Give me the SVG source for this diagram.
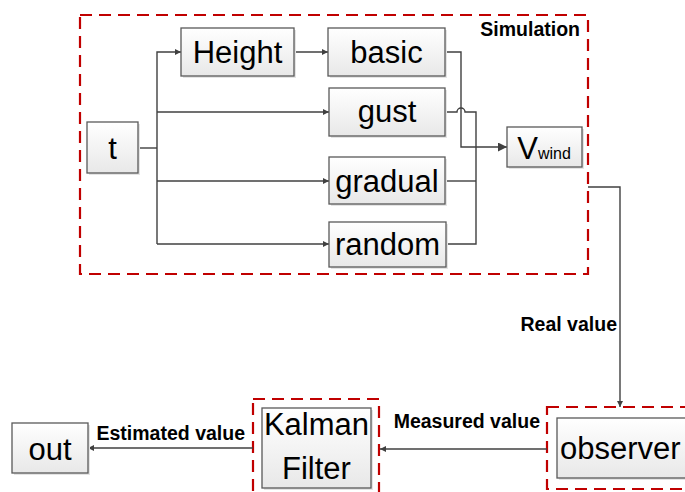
<svg xmlns="http://www.w3.org/2000/svg" width="685" height="492" viewBox="0 0 685 492">
<defs>
<linearGradient id="g" x1="0" y1="0" x2="0" y2="1">
<stop offset="0" stop-color="#ffffff"/>
<stop offset="1" stop-color="#e8e8e8"/>
</linearGradient>
<marker id="a" viewBox="0 0 10 10" refX="10" refY="5" markerWidth="6" markerHeight="6" markerUnits="userSpaceOnUse" orient="auto">
<path d="M0,0 L10,5 L0,10 z" fill="#404040"/>
</marker>
<marker id="b" viewBox="0 0 10 10" refX="10" refY="5" markerWidth="9" markerHeight="9" markerUnits="userSpaceOnUse" orient="auto">
<path d="M0,0 L10,5 L0,10 z" fill="#404040"/>
</marker>
</defs>
<style>
.box{fill:url(#g);stroke:#595959;stroke-width:1.3}
.sh{fill:#e4e4e4}
.t{font-family:"Liberation Sans",Arial,sans-serif;font-size:31px;fill:#000;text-anchor:middle}
.lb{font-family:"Liberation Sans",Arial,sans-serif;font-size:19.5px;font-weight:bold;fill:#000;text-anchor:end}
.dash{fill:none;stroke:#c00000;stroke-width:2.2;stroke-dasharray:12,7}
.c{fill:none;stroke:#404040;stroke-width:1.4}
</style>
<rect width="685" height="492" fill="#fff"/>
<g id="groups">
<rect class="dash" x="80" y="15" width="508" height="259"/>
<rect class="dash" x="253" y="399" width="126" height="110"/>
<rect class="dash" x="547" y="407" width="150" height="82"/>
<text class="lb" x="580" y="36">Simulation</text>
</g>
<g id="connectors">
<path class="c" d="M138,148 H157"/>
<path class="c" d="M157,244 V52 H181" marker-end="url(#a)"/>
<path class="c" d="M157,112 H329" marker-end="url(#a)"/>
<path class="c" d="M157,181 H329" marker-end="url(#a)"/>
<path class="c" d="M157,244 H329" marker-end="url(#a)"/>
<path class="c" d="M294,52 H328" marker-end="url(#a)"/>
<path class="c" d="M445,52 H461 V147 H507" marker-end="url(#b)"/>
<path class="c" d="M445,112 H457 A4,4 0 0 1 465,112 H476 V244 H445"/>
<path class="c" d="M445,181 H476"/>
<path class="c" d="M588,187 H620 V407" marker-end="url(#a)"/>
<path class="c" d="M547,449 H380" marker-end="url(#a)"/>
<path class="c" d="M253,448 H88" marker-end="url(#a)"/>
<text class="lb" x="617" y="331">Real value</text>
<text class="lb" x="540" y="428">Measured value</text>
<text class="lb" x="245" y="440">Estimated value</text>
</g>
<g id="t">
<rect class="sh" x="89" y="124" width="51" height="51"/>
<rect class="box" x="87" y="122" width="51" height="51"/>
<text class="t" x="112.5" y="159">t</text>
</g>
<g id="height">
<rect class="sh" x="183" y="30" width="113" height="48"/>
<rect class="box" x="181" y="28" width="113" height="48"/>
<text class="t" x="237.5" y="63">Height</text>
</g>
<g id="basic">
<rect class="sh" x="330" y="30" width="117" height="48"/>
<rect class="box" x="328" y="28" width="117" height="48"/>
<text class="t" x="386.5" y="63">basic</text>
</g>
<g id="gust">
<rect class="sh" x="331" y="90" width="116" height="48"/>
<rect class="box" x="329" y="88" width="116" height="48"/>
<text class="t" x="387" y="122">gust</text>
</g>
<g id="gradual">
<rect class="sh" x="331" y="159" width="116" height="47"/>
<rect class="box" x="329" y="157" width="116" height="47"/>
<text class="t" x="387" y="192">gradual</text>
</g>
<g id="random">
<rect class="sh" x="331" y="224" width="117" height="45"/>
<rect class="box" x="329" y="222" width="117" height="45"/>
<text class="t" x="387.5" y="255">random</text>
</g>
<g id="vwind">
<rect class="sh" x="509" y="129" width="75" height="40"/>
<rect class="box" x="507" y="127" width="75" height="40"/>
<text class="t" x="544" y="159">V<tspan font-size="16">wind</tspan></text>
</g>
<g id="observer">
<rect class="sh" x="559" y="420" width="140" height="60"/>
<rect class="box" x="557" y="418" width="140" height="60"/>
<text class="t" x="560" y="459" style="text-anchor:start">observer</text>
</g>
<g id="kalman">
<rect class="sh" x="264" y="410" width="109" height="80"/>
<rect class="box" x="262" y="408" width="109" height="80"/>
<text class="t" x="316.5" y="435">Kalman</text>
<text class="t" x="316.5" y="479">Filter</text>
</g>
<g id="out">
<rect class="sh" x="14" y="425" width="76" height="50"/>
<rect class="box" x="12" y="423" width="76" height="50"/>
<text class="t" x="50" y="460">out</text>
</g>
</svg>
